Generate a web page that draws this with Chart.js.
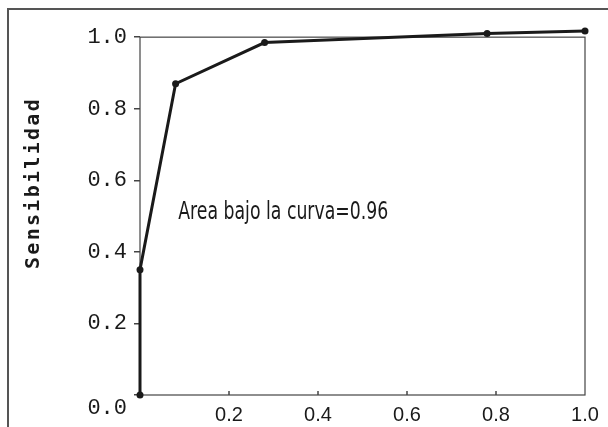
<!DOCTYPE html>
<html>
<head>
<meta charset="utf-8">
<script src="https://cdn.jsdelivr.net/npm/chart.js@4"></script>
<style>
  html, body { margin: 0; padding: 0; background: #fff; }
  #wrap { width: 608px; height: 427px; }
</style>
</head>
<body>
<div id="wrap"><canvas id="roc" width="608" height="427"></canvas></div>
<script>
// ROC curve points (1 - especificidad, sensibilidad)
const fpr = [0, 0, 0.08, 0.28, 0.78, 1.0];
const sens = [0, 0.35, 0.87, 0.985, 1.01, 1.017];
const yTicks = [0, 0.2, 0.4, 0.6, 0.8, 1.0];
const xTicks = [0.2, 0.4, 0.6, 0.8, 1.0];
const yTitle = 'Sensibilidad';
const note = 'Area bajo la curva=0.96';

const ink = '#1a1a1a';

// frame, plot box, inner x ticks, rotated title and the note
const decor = {
  id: 'decor',
  beforeDatasetsDraw(chart) {
    const { ctx, chartArea: a } = chart;
    const xs = chart.scales.x, ys = chart.scales.y;
    const top = ys.getPixelForValue(1);
    ctx.save();
    // outer frame (only left and top show on the scan)
    ctx.strokeStyle = '#555';
    ctx.lineWidth = 2;
    ctx.beginPath();
    ctx.moveTo(8, chart.height);
    ctx.lineTo(8, 9);
    ctx.lineTo(chart.width, 9);
    ctx.stroke();
    // plot box, top edge at 1.0
    ctx.strokeStyle = '#444';
    ctx.lineWidth = 1.2;
    ctx.strokeRect(a.left, top, a.right - a.left, a.bottom - top);
    // small tick marks pointing up inside the box
    ctx.lineWidth = 1.5;
    xTicks.slice(0, -1).forEach(v => {
      const px = xs.getPixelForValue(v);
      ctx.beginPath();
      ctx.moveTo(px, a.bottom);
      ctx.lineTo(px, a.bottom - 4);
      ctx.stroke();
    });
    ctx.restore();
  },
  afterDraw(chart) {
    const { ctx, chartArea: a } = chart;
    const xs = chart.scales.x, ys = chart.scales.y;
    ctx.save();
    // shared 0.0 corner label, sits below the axis like the y labels
    ctx.fillStyle = ink;
    ctx.font = '22px "Liberation Mono", monospace';
    ctx.textAlign = 'right';
    ctx.textBaseline = 'middle';
    ctx.fillText('0.0', a.left - 13, a.bottom + 13);

    // y axis title, bold typewriter with wide spacing
    ctx.translate(34, 183);
    ctx.rotate(-Math.PI / 2);
    ctx.font = 'bold 20px "DejaVu Sans Mono", monospace';
    ctx.letterSpacing = '2.3px';
    ctx.textAlign = 'center';
    ctx.fillText(yTitle, 0, 0);
    ctx.restore();

    // area note, condensed face
    ctx.save();
    ctx.fillStyle = ink;
    ctx.font = '24px "DejaVu Sans", sans-serif';
    ctx.textBaseline = 'middle';
    const w = ctx.measureText(note).width;
    const x0 = xs.getPixelForValue(0.086), y0 = ys.getPixelForValue(0.51);
    ctx.translate(x0, y0);
    ctx.scale(210 / w, 1);
    ctx.fillText(note, 0, 0);
    ctx.restore();
  }
};

new Chart(document.getElementById('roc'), {
  type: 'line',
  data: {
    datasets: [{
      data: fpr.map((x, i) => ({ x, y: sens[i] })),
      borderColor: ink,
      backgroundColor: ink,
      borderWidth: 3,
      pointRadius: 3.5,
      pointBackgroundColor: ink,
      pointBorderWidth: 0,
      tension: 0,
      clip: false
    }]
  },
  options: {
    responsive: false,
    animation: false,
    layout: { padding: { top: 30, right: 23, left: 0, bottom: 0 } },
    plugins: { legend: { display: false }, tooltip: { enabled: false } },
    scales: {
      x: {
        type: 'linear',
        min: 0,
        max: 1,
        afterFit: s => { s.height = 32; },
        afterBuildTicks: s => { s.ticks = xTicks.map(v => ({ value: v })); },
        grid: { display: false },
        border: { display: false },
        ticks: {
          padding: 0,
          maxRotation: 0,
          color: ink,
          font: { family: '"Liberation Sans", Arial, sans-serif', size: 20 },
          callback: v => v.toFixed(1)
        }
      },
      y: {
        type: 'linear',
        min: 0,
        max: 1.02,
        afterFit: s => { s.width = 140; },
        afterBuildTicks: s => { s.ticks = yTicks.map(v => ({ value: v })); },
        grid: { drawOnChartArea: false, drawTicks: true, tickLength: 6, color: '#444', lineWidth: 1.5 },
        border: { display: false },
        ticks: {
          padding: 7,
          color: ink,
          font: { family: '"Liberation Mono", monospace', size: 22 },
          callback: v => (v === 0 ? '' : v.toFixed(1))
        }
      }
    }
  },
  plugins: [decor]
});
</script>
</body>
</html>
